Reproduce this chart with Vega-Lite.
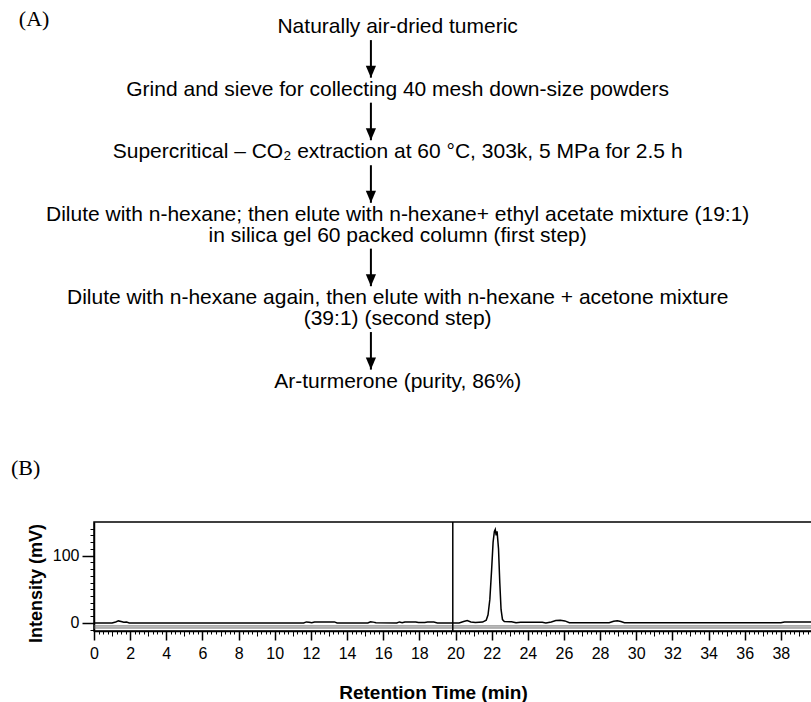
{
  "$schema": "https://vega.github.io/schema/vega-lite/v6.json",
  "background": "white",
  "padding": {"left": 10, "top": 0, "right": 0, "bottom": 0},
  "spacing": 16,
  "config": {"font": "Liberation Sans", "view": {"stroke": null}},
  "datasets": {
    "flow": [
      {"row": 0, "label": "Naturally air-dried tumeric"},
      {"row": 3, "label": "Grind and sieve for collecting 40 mesh down-size powders"},
      {"row": 6, "label": "Supercritical – CO₂ extraction at  60 °C, 303k, 5 MPa for 2.5 h"},
      {"row": 9, "label": "Dilute with n-hexane; then elute with n-hexane+ ethyl acetate mixture (19:1)"},
      {"row": 10, "label": "in silica gel 60 packed column (first step)"},
      {"row": 13, "label": "Dilute with n-hexane again, then elute with n-hexane + acetone mixture"},
      {"row": 14, "label": "(39:1) (second step)"},
      {"row": 17, "label": "Ar-turmerone (purity, 86%)"}
    ],
    "panel": [{"label": "(A)"}],
    "arrows": [
      {"from": 0, "to": 3},
      {"from": 3, "to": 6},
      {"from": 6, "to": 9},
      {"from": 10, "to": 13},
      {"from": 14, "to": 17}
    ],
    "trace": [
      {"t": 0, "v": 0}, {"t": 1.0, "v": 0}, {"t": 1.2, "v": 1.5}, {"t": 1.35, "v": 3}, {"t": 1.5, "v": 2},
      {"t": 1.65, "v": 1}, {"t": 1.8, "v": 1.2}, {"t": 1.95, "v": 0}, {"t": 11.6, "v": 0}, {"t": 11.75, "v": 1.5},
      {"t": 11.9, "v": 1}, {"t": 12.05, "v": 0.3}, {"t": 12.2, "v": 1.5}, {"t": 13.3, "v": 1.5}, {"t": 13.45, "v": 0},
      {"t": 15.15, "v": 0}, {"t": 15.3, "v": 1.8}, {"t": 15.45, "v": 1.2}, {"t": 15.6, "v": 0.2}, {"t": 16.75, "v": 0},
      {"t": 16.9, "v": 1.5}, {"t": 17.05, "v": 0.3}, {"t": 17.2, "v": 1.5}, {"t": 17.8, "v": 1.5}, {"t": 17.95, "v": 0.5},
      {"t": 18.3, "v": 0.5}, {"t": 18.45, "v": 1.2}, {"t": 18.8, "v": 1.2}, {"t": 19.0, "v": 0}, {"t": 20.2, "v": 0},
      {"t": 20.45, "v": 2}, {"t": 20.65, "v": 3.5}, {"t": 20.85, "v": 1.5}, {"t": 21.1, "v": 0.8}, {"t": 21.5, "v": 1.2},
      {"t": 21.7, "v": 4}, {"t": 21.8, "v": 12}, {"t": 21.9, "v": 35}, {"t": 22.0, "v": 80}, {"t": 22.08, "v": 120},
      {"t": 22.15, "v": 136}, {"t": 22.2, "v": 139}, {"t": 22.25, "v": 130}, {"t": 22.3, "v": 136}, {"t": 22.38, "v": 110},
      {"t": 22.45, "v": 60}, {"t": 22.52, "v": 20}, {"t": 22.6, "v": 5}, {"t": 22.7, "v": 2}, {"t": 23.1, "v": 1.8},
      {"t": 23.35, "v": 0.2}, {"t": 23.6, "v": 1}, {"t": 24.8, "v": 1}, {"t": 25.0, "v": 0}, {"t": 25.3, "v": 1.5},
      {"t": 25.55, "v": 3.5}, {"t": 25.8, "v": 4}, {"t": 26.05, "v": 3}, {"t": 26.3, "v": 0.3}, {"t": 28.5, "v": 0.3},
      {"t": 28.75, "v": 2.5}, {"t": 28.95, "v": 3.2}, {"t": 29.15, "v": 2}, {"t": 29.35, "v": 0.2}, {"t": 38.0, "v": 0.2},
      {"t": 38.2, "v": 1.5}, {"t": 40, "v": 1.5}
    ],
    "split": [{"t": 19.85}],
    "base": [{"v": -4.5}, {"v": -7.5}]
  },
  "vconcat": [
    {
      "width": 723,
      "height": 440,
      "layer": [
        {
          "data": {"name": "flow"},
          "mark": {"type": "text", "fontSize": 21, "font": "Liberation Sans", "align": "center", "baseline": "middle", "color": "black"},
          "encoding": {
            "x": {"datum": 42, "type": "quantitative", "scale": {"domain": [0, 100], "nice": false, "zero": false}, "axis": null},
            "y": {"field": "row", "type": "quantitative", "scale": {"domain": [-1.3, 19.8], "reverse": true, "nice": false, "zero": false}, "axis": null},
            "text": {"field": "label"}
          }
        },
        {
          "data": {"name": "panel"},
          "mark": {"type": "text", "fontSize": 22, "font": "Liberation Serif", "align": "left", "baseline": "middle", "color": "black"},
          "encoding": {
            "x": {"datum": -10.4, "type": "quantitative"},
            "y": {"datum": -0.4, "type": "quantitative"},
            "text": {"field": "label"}
          }
        },
        {
          "data": {"name": "arrows"},
          "mark": {"type": "rule", "strokeWidth": 2, "color": "black", "yOffset": 13, "y2Offset": -12},
          "encoding": {
            "x": {"datum": 38.3, "type": "quantitative"},
            "y": {"field": "from", "type": "quantitative"},
            "y2": {"field": "to"}
          }
        },
        {
          "data": {"name": "arrows"},
          "mark": {"type": "point", "shape": "M-0.85,-1L0.85,-1L0,1Z", "size": 144, "filled": true, "color": "black", "opacity": 1, "yOffset": -18},
          "encoding": {
            "x": {"datum": 38.3, "type": "quantitative"},
            "y": {"field": "to", "type": "quantitative"}
          }
        }
      ]
    },
    {
      "width": 723,
      "height": 109,
      "view": {"stroke": "black", "strokeWidth": 1.5},
      "title": {"text": "(B)", "anchor": "start", "frame": "group", "font": "Liberation Serif", "fontSize": 22, "fontWeight": "normal", "color": "black", "offset": 41, "dx": -83},
      "resolve": {"axis": {"x": "independent", "y": "independent"}},
      "layer": [
        {
          "data": {"name": "trace"},
          "mark": {"type": "line", "color": "black", "strokeWidth": 1.5},
          "encoding": {
            "x": {
              "field": "t", "type": "quantitative",
              "scale": {"domain": [0, 40], "nice": false, "zero": false},
              "axis": {
                "orient": "bottom",
                "values": [0,2,4,6,8,10,12,14,16,18,20,22,24,26,28,30,32,34,36,38],
                "format": "d",
                "grid": false,
                "domainColor": "black",
                "domainWidth": 1.5,
                "tickColor": "black",
                "tickSize": 9,
                "tickWidth": 1.5,
                "labelFontSize": 16,
                "labelColor": "black",
                "labelPadding": 5,
                "labelFlush": false,
                "title": "Retention Time (min)",
                "titleFontSize": 19,
                "titleFontWeight": "bold",
                "titleColor": "black",
                "titlePadding": 22,
                "titleX": 339
              }
            },
            "y": {
              "field": "v", "type": "quantitative",
              "scale": {"domain": [-12, 150], "nice": false, "zero": false},
              "axis": {
                "orient": "left",
                "values": [0, 100],
                "format": "d",
                "grid": false,
                "domainColor": "black",
                "domainWidth": 1.5,
                "tickColor": "black",
                "tickSize": 12,
                "tickWidth": 1.5,
                "labelFontSize": 16,
                "labelColor": "black",
                "labelPadding": 3,
                "labelFlush": false,
                "title": "Intensity (mV)",
                "titleFontSize": 18,
                "titleFontWeight": "bold",
                "titleColor": "black",
                "titlePadding": 7,
                "titleY": 61
              }
            }
          }
        },
        {
          "data": {"name": "base"},
          "mark": {"type": "rule", "color": "#666666", "strokeWidth": 1},
          "encoding": {
            "y": {
              "field": "v", "type": "quantitative",
              "axis": {
                "orient": "left",
                "values": [-10,0,10,20,30,40,50,60,70,80,90,100,110,120,130,140],
                "labels": false,
                "domain": false,
                "grid": false,
                "title": null,
                "tickColor": "black",
                "tickSize": 4,
                "tickWidth": 1
              }
            }
          }
        },
        {
          "data": {"name": "split"},
          "mark": {"type": "rule", "color": "black", "strokeWidth": 1.5},
          "encoding": {
            "x": {
              "field": "t", "type": "quantitative",
              "axis": {
                "orient": "bottom",
                "values": [0,0.25,0.5,0.75,1,1.25,1.5,1.75,2,2.25,2.5,2.75,3,3.25,3.5,3.75,4,4.25,4.5,4.75,5,5.25,5.5,5.75,6,6.25,6.5,6.75,7,7.25,7.5,7.75,8,8.25,8.5,8.75,9,9.25,9.5,9.75,10,10.25,10.5,10.75,11,11.25,11.5,11.75,12,12.25,12.5,12.75,13,13.25,13.5,13.75,14,14.25,14.5,14.75,15,15.25,15.5,15.75,16,16.25,16.5,16.75,17,17.25,17.5,17.75,18,18.25,18.5,18.75,19,19.25,19.5,19.75,20,20.25,20.5,20.75,21,21.25,21.5,21.75,22,22.25,22.5,22.75,23,23.25,23.5,23.75,24,24.25,24.5,24.75,25,25.25,25.5,25.75,26,26.25,26.5,26.75,27,27.25,27.5,27.75,28,28.25,28.5,28.75,29,29.25,29.5,29.75,30,30.25,30.5,30.75,31,31.25,31.5,31.75,32,32.25,32.5,32.75,33,33.25,33.5,33.75,34,34.25,34.5,34.75,35,35.25,35.5,35.75,36,36.25,36.5,36.75,37,37.25,37.5,37.75,38,38.25,38.5,38.75,39,39.25,39.5,39.75],
                "labels": false,
                "domain": false,
                "grid": false,
                "title": null,
                "tickColor": "black",
                "tickSize": {"condition": {"test": "datum.value % 1 === 0", "value": 5}, "value": 3},
                "tickWidth": 1
              }
            }
          }
        }
      ]
    }
  ]
}
